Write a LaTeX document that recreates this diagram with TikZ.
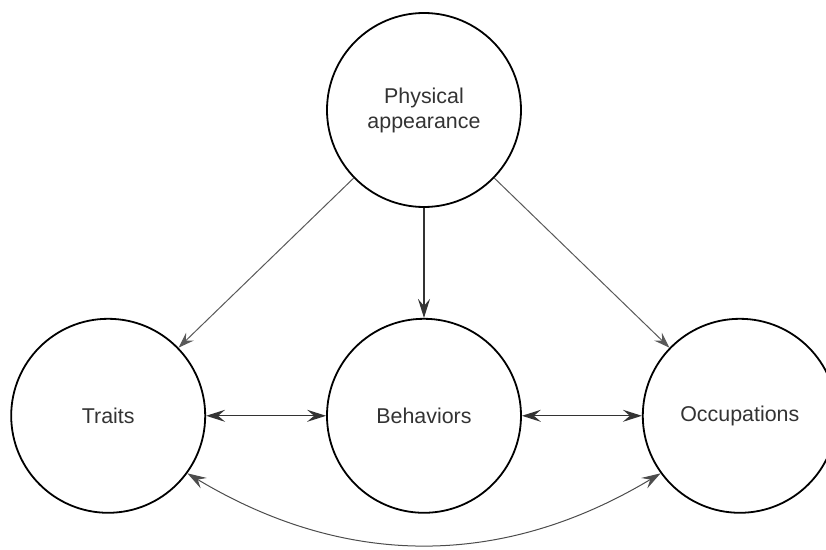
\documentclass[tikz,border=0pt]{standalone}
\usepackage{fontspec}
\setmainfont{Liberation Sans}
\usetikzlibrary{arrows.meta,positioning}

\begin{document}
\begin{tikzpicture}[
    node distance=55pt and 60pt,
    bubble/.style={
        circle,
        draw=black,
        line width=0.9pt,
        minimum size=97pt,
        align=center,
        font=\fontsize{10.7}{12.5}\selectfont,
        text=black!80,
        inner sep=0pt
    },
    arr/.style={-{Stealth[length=9.5pt,width=6pt,inset=3.5pt]}, line width=0.7pt, draw=black!80},
    darr/.style={{Stealth[length=9.5pt,width=6pt,inset=3.5pt]}-{Stealth[length=9.5pt,width=6pt,inset=3.5pt]}, line width=0.7pt, draw=black!80},
    farr/.style={-{Stealth[length=8pt,width=5.5pt,inset=3pt]}, line width=0.5pt, draw=black!65},
]

% page
\useasboundingbox (-212pt,55pt) rectangle (201pt,-220pt);

% nodes
\node[bubble] (appearance) at (0,0) {Physical\\appearance};

\node[bubble, below=of appearance] (behaviors) {Behaviors};

\node[bubble, left=of behaviors] (traits) {Traits};

\node[bubble, right=of behaviors] (occupations) {Occupations};

% arrows
\draw[farr] (appearance) -- (traits);
\draw[arr] (appearance) -- (behaviors);
\draw[farr] (appearance) -- (occupations);

\draw[darr] (traits) -- (behaviors);
\draw[darr] (behaviors) -- (occupations);

\draw[darr, draw=black!70, line width=0.5pt] (traits.-36) to[out=-31, in=211] (occupations.216);

\end{tikzpicture}
\end{document}
